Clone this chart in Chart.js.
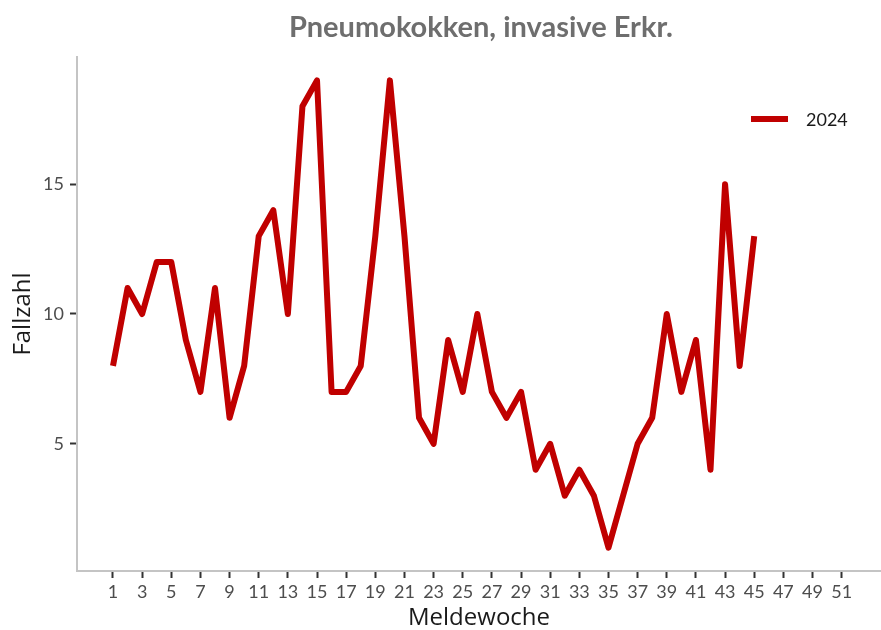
<!DOCTYPE html>
<html lang="de">
<head>
<meta charset="utf-8">
<title>Pneumokokken, invasive Erkr.</title>
<script src="https://cdn.jsdelivr.net/npm/chart.js@4/dist/chart.umd.min.js"></script>
<style>
  html, body { margin: 0; padding: 0; background: #fff; }
  canvas { display: block; }
</style>
</head>
<body>
<canvas id="chart" width="881" height="630"></canvas>
<script>
/* === DATA === */
const weeks = [1, 2, 3, 4, 5, 6, 7, 8, 9, 10, 11, 12, 13, 14, 15, 16, 17, 18, 19, 20,
  21, 22, 23, 24, 25, 26, 27, 28, 29, 30, 31, 32, 33, 34, 35, 36, 37, 38, 39, 40,
  41, 42, 43, 44, 45];
const cases2024 = [8, 11, 10, 12, 12, 9, 7, 11, 6, 8, 13, 14, 10, 18, 19, 7, 7, 8, 13, 19,
  13, 6, 5, 9, 7, 10, 7, 6, 7, 4, 5, 3, 4, 3, 1, 3, 5, 6, 10, 7,
  9, 4, 15, 8, 13];
const xTicks = [1, 3, 5, 7, 9, 11, 13, 15, 17, 19, 21, 23, 25, 27, 29, 31, 33, 35, 37, 39,
  41, 43, 45, 47, 49, 51];
const yTicks = [5, 10, 15];

const seriesLabel = "2024";
const seriesColor = "#c00000";
const titleText = "Pneumokokken, invasive Erkr.";
const FONT = "Lato, 'DejaVu Sans', sans-serif";
const LABEL_FONT = "'Open Sans', Lato, sans-serif";

/* === PLUGINS === */
const titlePlugin = {
  id: "titlePlugin",
  afterDraw(chart) {
    const { ctx } = chart;
    ctx.save();
    ctx.font = `bold 29px ${FONT}`;
    ctx.fillStyle = "#6e6e6e";
    ctx.textAlign = "center";
    ctx.textBaseline = "middle";
    ctx.fillText(titleText, 481, 28);
    ctx.restore();
  }
};

const legendPlugin = {
  id: "legendPlugin",
  afterDraw(chart) {
    const { ctx } = chart;
    ctx.save();
    ctx.strokeStyle = seriesColor;
    ctx.lineWidth = 6;
    ctx.beginPath();
    ctx.moveTo(751, 119);
    ctx.lineTo(788, 119);
    ctx.stroke();
    ctx.font = `18px ${FONT}`;
    ctx.fillStyle = "#1a1a1a";
    ctx.textAlign = "left";
    ctx.textBaseline = "middle";
    ctx.fillText(seriesLabel, 806, 120);
    ctx.restore();
  }
};

/* === CHART === */
const ctx = document.getElementById("chart").getContext("2d");

new Chart(ctx, {
  type: "line",
  data: {
    datasets: [{
      label: seriesLabel,
      data: weeks.map((w, i) => ({ x: w, y: cases2024[i] })),
      borderColor: seriesColor,
      backgroundColor: seriesColor,
      borderWidth: 6,
      borderJoinStyle: "round",
      borderCapStyle: "butt",
      pointRadius: 0,
      tension: 0
    }]
  },
  options: {
    responsive: false,
    animation: false,
    layout: { padding: { top: 57, right: 0, left: 0, bottom: 0 } },
    plugins: {
      legend: { display: false },
      title: { display: false },
      tooltip: { enabled: false }
    },
    scales: {
      x: {
        type: "linear",
        min: -1.47,
        max: 53.7,
        afterBuildTicks: (scale) => { scale.ticks = xTicks.map(v => ({ value: v })); },
        afterFit: (scale) => { scale.height = 59; },
        border: { color: "#c4c4c4", width: 2 },
        grid: {
          drawOnChartArea: false,
          drawTicks: true,
          tickLength: 7,
          tickColor: "#333",
          tickWidth: 2
        },
        ticks: {
          autoSkip: false,
          maxRotation: 0,
          padding: 3,
          color: "#4d4d4d",
          font: { family: FONT, size: 18 }
        },
        title: {
          display: true,
          text: "Meldewoche",
          color: "#1a1a1a",
          font: { family: LABEL_FONT, size: 24, lineHeight: 1.0 },
          padding: 0
        }
      },
      y: {
        type: "linear",
        min: 0.1,
        max: 19.9,
        afterBuildTicks: (scale) => { scale.ticks = yTicks.map(v => ({ value: v })); },
        afterFit: (scale) => { scale.width = 77; },
        border: { color: "#c4c4c4", width: 2 },
        grid: {
          drawOnChartArea: false,
          drawTicks: true,
          tickLength: 7,
          tickColor: "#333",
          tickWidth: 2
        },
        ticks: {
          padding: 6,
          color: "#4d4d4d",
          font: { family: FONT, size: 18 }
        },
        title: {
          display: true,
          text: "Fallzahl",
          color: "#1a1a1a",
          font: { family: LABEL_FONT, size: 24, lineHeight: 1.0 },
          padding: { top: 11, bottom: 0 }
        }
      }
    }
  },
  plugins: [titlePlugin, legendPlugin]
});
</script>
</body>
</html>
